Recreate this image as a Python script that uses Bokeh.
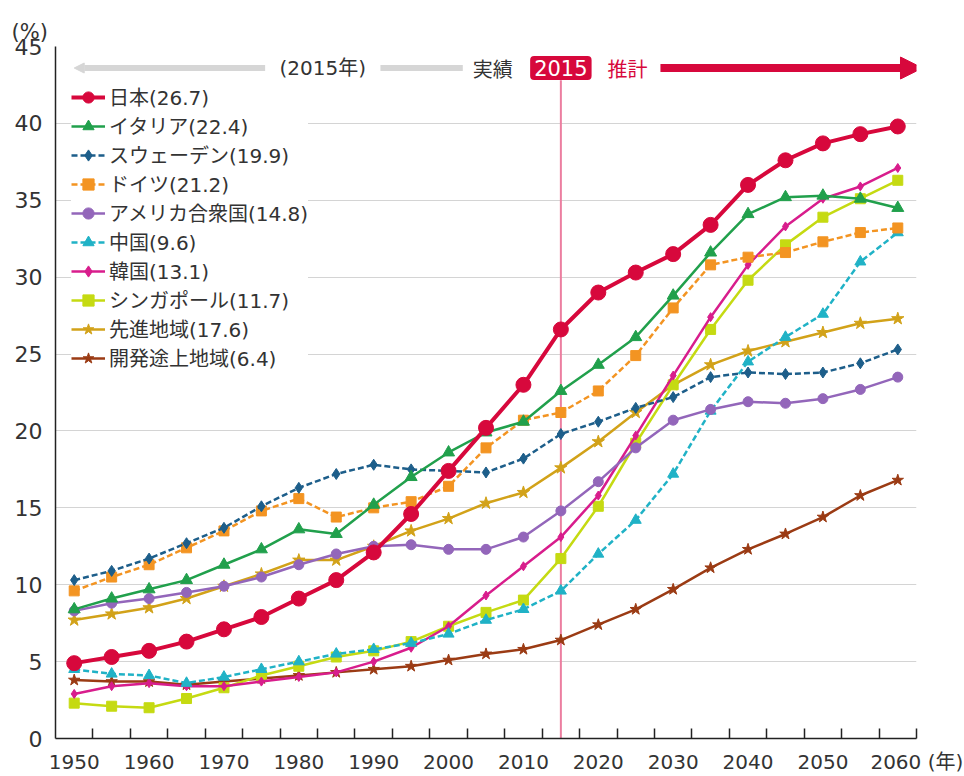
from bokeh.plotting import figure
from bokeh.models import Range1d, FixedTicker, Legend, LegendItem, Label, Arrow, NormalHead
from bokeh.embed import file_html
from bokeh.resources import INLINE

years = [1950, 1955, 1960, 1965, 1970, 1975, 1980, 1985, 1990, 1995, 2000, 2005,
         2010, 2015, 2020, 2025, 2030, 2035, 2040, 2045, 2050, 2055, 2060]

japan = [4.9, 5.3, 5.7, 6.3, 7.1, 7.9, 9.1, 10.3, 12.1, 14.6, 17.4, 20.2, 23.0, 26.6, 29.0, 30.3, 31.5, 33.4, 36.0, 37.6, 38.7, 39.3, 39.8]
italy = [8.4, 9.1, 9.7, 10.3, 11.3, 12.3, 13.6, 13.3, 15.2, 17.0, 18.6, 19.9, 20.6, 22.6, 24.3, 26.1, 28.8, 31.6, 34.1, 35.2, 35.3, 35.1, 34.5]
sweden = [10.3, 10.9, 11.7, 12.7, 13.7, 15.1, 16.3, 17.2, 17.8, 17.5, 17.4, 17.3, 18.2, 19.8, 20.6, 21.5, 22.2, 23.5, 23.8, 23.7, 23.8, 24.4, 25.3]
germany = [9.6, 10.5, 11.3, 12.4, 13.5, 14.8, 15.6, 14.4, 15.0, 15.4, 16.4, 18.9, 20.7, 21.2, 22.6, 24.9, 28.0, 30.8, 31.3, 31.6, 32.3, 32.9, 33.2]
usa = [8.3, 8.8, 9.1, 9.5, 9.9, 10.5, 11.3, 12.0, 12.5, 12.6, 12.3, 12.3, 13.1, 14.8, 16.7, 18.9, 20.7, 21.4, 21.9, 21.8, 22.1, 22.7, 23.5]
china = [4.5, 4.2, 4.1, 3.6, 4.0, 4.5, 5.0, 5.5, 5.8, 6.2, 6.8, 7.7, 8.4, 9.6, 12.0, 14.2, 17.2, 21.3, 24.5, 26.1, 27.6, 31.0, 32.9]
korea = [2.9, 3.4, 3.6, 3.4, 3.4, 3.7, 4.0, 4.3, 5.0, 5.9, 7.3, 9.3, 11.2, 13.1, 15.8, 19.7, 23.6, 27.4, 30.8, 33.3, 35.1, 35.9, 37.1]
singapore = [2.3, 2.1, 2.0, 2.6, 3.3, 4.1, 4.7, 5.3, 5.7, 6.3, 7.3, 8.2, 9.0, 11.7, 15.1, 19.2, 23.0, 26.6, 29.8, 32.1, 33.9, 35.1, 36.3]
developed = [7.7, 8.1, 8.5, 9.1, 9.9, 10.7, 11.6, 11.6, 12.5, 13.5, 14.3, 15.3, 16.0, 17.6, 19.3, 21.2, 23.0, 24.3, 25.2, 25.8, 26.4, 27.0, 27.3]
developing = [3.8, 3.7, 3.7, 3.5, 3.7, 3.9, 4.1, 4.3, 4.5, 4.7, 5.1, 5.5, 5.8, 6.4, 7.4, 8.4, 9.7, 11.1, 12.3, 13.3, 14.4, 15.8, 16.8]

labels = ["日本(26.7)", "イタリア(22.4)", "スウェーデン(19.9)", "ドイツ(21.2)",
          "アメリカ合衆国(14.8)", "中国(9.6)", "韓国(13.1)", "シンガポール(11.7)",
          "先進地域(17.6)", "開発途上地域(6.4)"]

x_tick_years = [1950, 1960, 1970, 1980, 1990, 2000, 2010, 2020, 2030, 2040, 2050, 2060]
y_ticks = [0, 5, 10, 15, 20, 25, 30, 35, 40, 45]
base_year = 2015
x_unit = "(年)"
y_unit = "(%)"

FONT = "DejaVu Sans, Noto Sans CJK JP"
CJK = "Noto Sans CJK JP"
RED = "#d7083c"
TXT = "#333333"
NB = "\u00a0"

p = figure(width=964, height=776, output_backend="svg", toolbar_location=None,
           x_range=Range1d(1947.5, 2062.5), y_range=Range1d(0, 45),
           min_border_left=55, min_border_right=48, min_border_top=46, min_border_bottom=33)
p.outline_line_color = None
p.background_fill_color = "white"

# y unit as title at top-left
p.title.text = y_unit
p.title.align = "left"
p.title.offset = -44
p.title.standoff = 6
p.title.text_font = FONT
p.title.text_font_style = "normal"
p.title.text_font_size = "21px"
p.title.text_color = TXT

# axes
p.xaxis.ticker = FixedTicker(ticks=x_tick_years,
                             minor_ticks=[y + 2.5 for y in years])
p.xaxis.major_label_overrides = {2060: NB * 6 + "2060" + NB + x_unit}
p.xaxis.major_tick_line_color = None
p.xaxis.minor_tick_in = 10
p.xaxis.minor_tick_out = 0
p.xaxis.minor_tick_line_color = "#222222"
p.xaxis.minor_tick_line_width = 1.5
p.xaxis.major_label_standoff = 5
p.xaxis.major_label_text_font_size = "20px"
p.yaxis.ticker = FixedTicker(ticks=y_ticks)
p.yaxis.major_tick_line_color = None
p.yaxis.minor_tick_line_color = None
p.yaxis.major_label_standoff = 7
p.yaxis.major_label_text_font_size = "22px"
for ax in (p.xaxis, p.yaxis):
    ax.axis_line_color = "#222222"
    ax.axis_line_width = 1.5
    ax.major_label_text_font = FONT
    ax.major_label_text_color = TXT
p.xgrid.grid_line_color = None
p.ygrid.ticker = FixedTicker(ticks=y_ticks[1:])
p.ygrid.grid_line_color = "#d4d4d4"
p.ygrid.grid_line_width = 1

# 2015 vertical line
banner_y = 43.6
p.segment(x0=[base_year], y0=[0], x1=[base_year], y1=[42.8], line_color="#ec7ea0", line_width=2)

series = [
    (labels[0], japan, "#d7083c", "circle", 15, 4, "solid"),
    (labels[1], italy, "#21a04c", "triangle", 12, 2.5, "solid"),
    (labels[2], sweden, "#1d5e8a", "diamond", 11, 2.5, "6 3"),
    (labels[3], germany, "#f39422", "square", 10, 2.5, "6 3"),
    (labels[4], usa, "#9366ba", "circle", 10, 2.5, "solid"),
    (labels[5], china, "#20b2c6", "triangle", 11, 2.5, "6 3"),
    (labels[6], korea, "#d81d8c", "diamond", 9, 2.5, "solid"),
    (labels[7], singapore, "#c5da12", "square", 10, 2.5, "solid"),
    (labels[8], developed, "#d2a219", "star", 13, 2.5, "solid"),
    (labels[9], developing, "#9b3b14", "star", 12, 2.5, "solid"),
]

items = {}
for lab, data, col, mk, sz, lw, dash in reversed(series):
    rl = p.line(years, data, line_color=col, line_width=lw, line_dash=dash)
    rm = p.scatter(years, data, marker=mk, size=sz, fill_color=col, line_color=col)
    items[lab] = LegendItem(label=lab, renderers=[rl, rm])

legend = Legend(items=[items[s[0]] for s in series], location=(16, 366),
                orientation="vertical", glyph_width=34, glyph_height=28,
                label_height=28, spacing=0, padding=4, margin=0,
                label_standoff=4, label_text_font=FONT, label_text_font_size="20px",
                label_text_color=TXT, background_fill_color="white",
                background_fill_alpha=1.0, border_line_color=None)
p.add_layout(legend)

# banner
GRAY = "#d6d6d6"
p.add_layout(Arrow(end=NormalHead(size=10, fill_color=GRAY, line_color=GRAY),
                   x_start=1975.5, y_start=banner_y, x_end=1950.0, y_end=banner_y,
                   line_color=GRAY, line_width=6))
p.segment(x0=[1990.9], y0=[banner_y], x1=[2001.9], y1=[banner_y], line_color=GRAY, line_width=6)
p.add_layout(Label(x=1983.2, y=banner_y, text="(2015年)", text_align="center",
                   text_baseline="middle", text_font=FONT, text_font_size="20px",
                   text_color=TXT))
p.add_layout(Label(x=2005.9, y=banner_y, text="実績", text_align="center",
                   text_baseline="middle", text_font=CJK, text_font_size="20px",
                   text_color=TXT))
p.add_layout(Label(x=base_year, y=banner_y, text=str(base_year), text_align="center",
                   text_baseline="middle", text_font="DejaVu Sans", text_font_size="21px",
                   text_color="white", background_fill_color=RED,
                   border_radius=4, padding=4))
p.add_layout(Label(x=2023.9, y=banner_y, text="推計", text_align="center",
                   text_baseline="middle", text_font=CJK, text_font_size="20px",
                   text_color=RED))
# red "projection" arrow: shaft + head
p.segment(x0=[2028.3], y0=[banner_y], x1=[2060.6], y1=[banner_y], line_color=RED, line_width=8)
p.add_layout(Arrow(end=NormalHead(size=22, fill_color=RED, line_color=RED),
                   x_start=2060.0, y_start=banner_y, x_end=2063.3, y_end=banner_y,
                   line_color=RED, line_alpha=0, line_width=1))

open("out.html", "w").write(file_html(p, INLINE))
